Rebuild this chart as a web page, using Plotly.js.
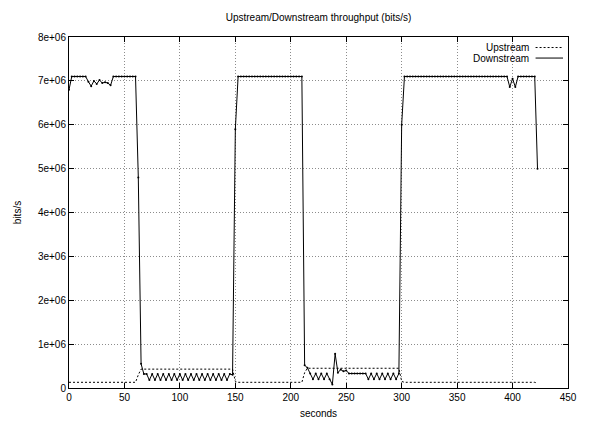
<!DOCTYPE html>
<html>
<head>
<meta charset="utf-8">
<script src="https://cdn.plot.ly/plotly-3.0.1.min.js"></script>
<style>
  html, body { margin: 0; padding: 0; background: #fff; }
  #chart { width: 597px; height: 421px; }
</style>
</head>
<body>
<div id="chart"></div>
<script>
// Sample clock: one sample every 2.5 s starting at 0 s
const sampleStart = 0;
const sampleStep = 2.5;

// Downstream throughput (bits/s), one value per sample
const downstream = [
  // 0 - 15 s
  6.8e6, 7.1e6, 7.1e6, 7.1e6, 7.1e6, 7.1e6, 7.1e6,
  // 17.5 - 37.5 s
  6.98e6, 6.88e6, 7.0e6, 6.93e6, 7.02e6, 6.95e6, 6.97e6, 6.95e6, 6.9e6,
  // 40 - 60 s
  7.1e6, 7.1e6, 7.1e6, 7.1e6, 7.1e6, 7.1e6, 7.1e6, 7.1e6, 7.1e6,
  // 62.5 - 70 s
  4.8e6, 0.55e6, 0.32e6, 0.32e6,
  // 72.5 - 145 s
  0.18e6, 0.32e6, 0.18e6, 0.32e6, 0.18e6, 0.32e6, 0.18e6, 0.32e6, 0.18e6, 0.32e6,
  0.18e6, 0.32e6, 0.18e6, 0.32e6, 0.18e6, 0.32e6, 0.18e6, 0.32e6, 0.18e6, 0.32e6,
  0.18e6, 0.32e6, 0.18e6, 0.32e6, 0.18e6, 0.32e6, 0.18e6, 0.32e6, 0.18e6, 0.32e6,
  // 147.5 - 152.5 s
  0.3e6, 5.9e6, 7.1e6,
  // 155 - 210 s
  7.1e6, 7.1e6, 7.1e6, 7.1e6, 7.1e6, 7.1e6, 7.1e6, 7.1e6, 7.1e6, 7.1e6, 7.1e6, 7.1e6,
  7.1e6, 7.1e6, 7.1e6, 7.1e6, 7.1e6, 7.1e6, 7.1e6, 7.1e6, 7.1e6, 7.1e6, 7.1e6,
  // 212.5 - 217.5 s
  0.52e6, 0.46e6, 0.33e6,
  // 220 - 235 s
  0.2e6, 0.33e6, 0.2e6, 0.33e6, 0.2e6, 0.33e6, 0.2e6,
  // 237.5 - 250 s
  0.08e6, 0.78e6, 0.35e6, 0.42e6, 0.38e6, 0.4e6,
  // 252.5 - 267.5 s
  0.33e6, 0.33e6, 0.33e6, 0.33e6, 0.33e6, 0.33e6, 0.33e6,
  // 270 - 297.5 s
  0.2e6, 0.33e6, 0.2e6, 0.33e6, 0.2e6, 0.33e6, 0.2e6, 0.33e6, 0.2e6, 0.33e6, 0.2e6, 0.33e6,
  // 300 - 302.5 s
  6.0e6, 7.1e6,
  // 305 - 395 s
  7.1e6, 7.1e6, 7.1e6, 7.1e6, 7.1e6, 7.1e6, 7.1e6, 7.1e6, 7.1e6, 7.1e6,
  7.1e6, 7.1e6, 7.1e6, 7.1e6, 7.1e6, 7.1e6, 7.1e6, 7.1e6, 7.1e6, 7.1e6,
  7.1e6, 7.1e6, 7.1e6, 7.1e6, 7.1e6, 7.1e6, 7.1e6, 7.1e6, 7.1e6, 7.1e6,
  7.1e6, 7.1e6, 7.1e6, 7.1e6, 7.1e6, 7.1e6, 7.1e6,
  // 397.5 - 402.5 s
  6.86e6, 7.05e6, 6.86e6,
  // 405 - 420 s
  7.1e6, 7.1e6, 7.1e6, 7.1e6, 7.1e6, 7.1e6, 7.1e6,
  // 422.5 s
  5.0e6
];

// Upstream throughput (bits/s), one value per sample
const upstream = [
  // 0 - 60 s
  0.13e6, 0.13e6, 0.13e6, 0.13e6, 0.13e6, 0.13e6, 0.13e6, 0.13e6, 0.13e6, 0.13e6,
  0.13e6, 0.13e6, 0.13e6, 0.13e6, 0.13e6, 0.13e6, 0.13e6, 0.13e6, 0.13e6, 0.13e6,
  0.13e6, 0.13e6, 0.13e6, 0.13e6, 0.13e6,
  // 62.5 s
  0.3e6,
  // 65 - 147.5 s
  0.43e6, 0.43e6, 0.43e6, 0.43e6, 0.43e6, 0.43e6, 0.43e6, 0.43e6, 0.43e6, 0.43e6,
  0.43e6, 0.43e6, 0.43e6, 0.43e6, 0.43e6, 0.43e6, 0.43e6, 0.43e6, 0.43e6, 0.43e6,
  0.43e6, 0.43e6, 0.43e6, 0.43e6, 0.43e6, 0.43e6, 0.43e6, 0.43e6, 0.43e6, 0.43e6,
  0.43e6, 0.43e6, 0.43e6, 0.43e6,
  // 150 s
  0.15e6,
  // 152.5 - 210 s
  0.13e6, 0.13e6, 0.13e6, 0.13e6, 0.13e6, 0.13e6, 0.13e6, 0.13e6, 0.13e6, 0.13e6,
  0.13e6, 0.13e6, 0.13e6, 0.13e6, 0.13e6, 0.13e6, 0.13e6, 0.13e6, 0.13e6, 0.13e6,
  0.13e6, 0.13e6, 0.13e6, 0.13e6,
  // 212.5 s
  0.35e6,
  // 215 - 297.5 s
  0.45e6, 0.45e6, 0.45e6, 0.45e6, 0.45e6, 0.45e6, 0.45e6, 0.45e6, 0.45e6, 0.45e6,
  0.45e6, 0.45e6, 0.45e6, 0.45e6, 0.45e6, 0.45e6, 0.45e6, 0.45e6, 0.45e6, 0.45e6,
  0.45e6, 0.45e6, 0.45e6, 0.45e6, 0.45e6, 0.45e6, 0.45e6, 0.45e6, 0.45e6, 0.45e6,
  0.45e6, 0.45e6, 0.45e6, 0.45e6,
  // 300 s
  0.15e6,
  // 302.5 - 420 s
  0.13e6, 0.13e6, 0.13e6, 0.13e6, 0.13e6, 0.13e6, 0.13e6, 0.13e6, 0.13e6, 0.13e6,
  0.13e6, 0.13e6, 0.13e6, 0.13e6, 0.13e6, 0.13e6, 0.13e6, 0.13e6, 0.13e6, 0.13e6,
  0.13e6, 0.13e6, 0.13e6, 0.13e6, 0.13e6, 0.13e6, 0.13e6, 0.13e6, 0.13e6, 0.13e6,
  0.13e6, 0.13e6, 0.13e6, 0.13e6, 0.13e6, 0.13e6, 0.13e6, 0.13e6, 0.13e6, 0.13e6,
  0.13e6, 0.13e6, 0.13e6, 0.13e6, 0.13e6, 0.13e6, 0.13e6, 0.13e6,
  // 422.5 s
  0.11e6
];

const xTickVals = [0, 50, 100, 150, 200, 250, 300, 350, 400, 450];
const yTickVals = [0, 1e6, 2e6, 3e6, 4e6, 5e6, 6e6, 7e6, 8e6];
const yTickText = ['0', '1e+06', '2e+06', '3e+06', '4e+06', '5e+06', '6e+06', '7e+06', '8e+06'];

const font = 'Liberation Sans, Arial, Helvetica, sans-serif';

const traces = [
  {
    name: 'Upstream',
    type: 'scatter',
    mode: 'lines',
    x0: sampleStart, dx: sampleStep,
    y: upstream,
    line: { color: '#000', width: 1, dash: '2px,2px' }
  },
  {
    name: 'Downstream',
    type: 'scatter',
    mode: 'lines+markers',
    x0: sampleStart, dx: sampleStep,
    y: downstream,
    line: { color: '#000', width: 1 },
    marker: { color: '#000', size: 2 }
  }
];

const axisCommon = {
  showline: true, linecolor: '#000', linewidth: 1, mirror: 'ticks',
  ticks: 'inside', ticklen: 5, tickcolor: '#000', tickwidth: 1,
  showgrid: true, gridcolor: '#8c8c8c', griddash: '1px,2px', gridwidth: 1,
  zeroline: false, tickfont: { family: font, size: 10, color: '#000' }
};

const layout = {
  width: 597, height: 421,
  margin: { l: 69, r: 29, t: 37, b: 33 },
  paper_bgcolor: '#fff', plot_bgcolor: '#fff',
  showlegend: false,
  font: { family: font, size: 10, color: '#000' },
  title: {
    text: 'Upstream/Downstream throughput (bits/s)',
    font: { family: font, size: 10, color: '#000' },
    x: 0.5, xref: 'paper', y: 1 - 17 / 421, yref: 'container', yanchor: 'middle'
  },
  xaxis: Object.assign({}, axisCommon, {
    range: [0, 450], tickmode: 'array', tickvals: xTickVals,
    title: { text: 'seconds', font: { family: font, size: 10, color: '#000' }, standoff: 7 }
  }),
  yaxis: Object.assign({}, axisCommon, {
    range: [0, 8e6], tickmode: 'array', tickvals: yTickVals, ticktext: yTickText,
    title: { text: 'bits/s', font: { family: font, size: 10, color: '#000' }, standoff: 14 }
  }),
  annotations: [
    { text: 'Upstream', xref: 'paper', yref: 'paper', x: 0.925, y: 0.97, xanchor: 'right', yanchor: 'middle', showarrow: false, font: { family: font, size: 10, color: '#000' } },
    { text: 'Downstream', xref: 'paper', yref: 'paper', x: 0.925, y: 0.94, xanchor: 'right', yanchor: 'middle', showarrow: false, font: { family: font, size: 10, color: '#000' } }
  ],
  shapes: [
    { type: 'line', xref: 'paper', yref: 'paper', x0: 0.935, x1: 0.99, y0: 0.97, y1: 0.97, line: { color: '#000', width: 1, dash: '2px,2px' } },
    { type: 'line', xref: 'paper', yref: 'paper', x0: 0.935, x1: 0.99, y0: 0.94, y1: 0.94, line: { color: '#000', width: 1 } }
  ]
};

Plotly.newPlot('chart', traces, layout, { displayModeBar: false, staticPlot: true });
</script>
</body>
</html>
